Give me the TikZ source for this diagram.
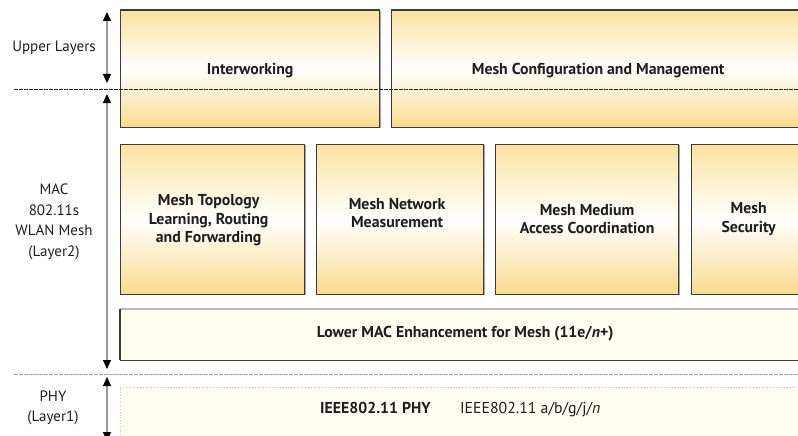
\documentclass[tikz,border=0pt]{standalone}
\usepackage{fontspec}
\setmainfont{PT Sans}
\usetikzlibrary{arrows.meta,shadows}
\definecolor{goldtop}{HTML}{FCE2A0}
\definecolor{goldbot}{HTML}{F9DB8E}
\definecolor{cream}{HTML}{FFFEF1}
\definecolor{edge}{HTML}{3C3C3C}
\definecolor{ink}{HTML}{1E1E1E}
\tikzset{
  goldbox/.style={draw=edge, line width=1.3pt, top color=goldtop, bottom color=goldbot,
    middle color=white, inner sep=0pt, anchor=north west,
    drop shadow={shadow xshift=1.2pt, shadow yshift=-1.2pt, opacity=0.35, fill=black}},
  boxtext/.style={font=\bfseries\fontsize{15.8}{18.5}\selectfont, text=ink, align=center, inner sep=0pt},
  sidetext/.style={font=\fontsize{15}{20.5}\selectfont, text=ink, align=center, inner sep=0pt},
  layerarrow/.style={draw=gray!80, line width=1.2pt,
    {Triangle[width=8pt,length=9pt,color=black]}-{Triangle[width=8pt,length=9pt,color=black]}},
  layersep/.style={line width=0.8pt, dash pattern=on 3.5pt off 1.5pt}
}
\begin{document}
\begin{tikzpicture}[x=1pt,y=-1pt]
\useasboundingbox (0,0) rectangle (798,436);
\clip (0,0) rectangle (798,436);

% upper layers
\node[goldbox, minimum width=259pt, minimum height=117pt] (iw) at (120,9.5) {};
\node[goldbox, minimum width=413pt, minimum height=117pt] (mcm) at (391,9.5) {};
\node[boxtext] (iwt) at ([yshift=-1.5pt]iw.center) {Interworking};
\node[boxtext] (mcmt) at ([yshift=-1.5pt]mcm.center) {Mesh Configuration and Management};

% MAC function blocks
\node[goldbox, minimum width=184pt, minimum height=150pt] (topo) at (120,143.5) {};
\node[goldbox, minimum width=167pt, minimum height=150pt] (meas) at (316,143.5) {};
\node[goldbox, minimum width=183pt, minimum height=150pt] (mac) at (495,143.5) {};
\node[goldbox, minimum width=114pt, minimum height=150pt] (sec) at (691,143.5) {};
\node[boxtext] (topot) at ([xshift=-4pt,yshift=-1pt]topo.center) {Mesh Topology\\Learning, Routing\\and Forwarding};
\node[boxtext] (meast) at ([xshift=-3pt,yshift=6pt]meas.center) {Mesh Network\\Measurement};
\node[boxtext] (mact) at ([yshift=0pt]mac.center) {Mesh Medium\\Access Coordination};
\node[boxtext] (sect) at ([yshift=0pt]sec.center) {Mesh\\Security};

% lower MAC
\node[fill=cream, inner sep=0pt, anchor=north west, minimum width=690pt, minimum height=51pt] (low) at (120,309) {};
\draw[gray!55, line width=2.2pt] (low.north west) -- (low.north east);
\draw[edge, line width=1.2pt] (low.north west) -- (low.south west);
\draw[edge, line width=1.6pt] (low.south west) -- (low.south east);
\node[boxtext] (lowt) at ([xshift=0pt,yshift=1pt]low.center) {Lower MAC Enhancement for Mesh (\textbf{11}e/\textit{n}+)};

% PHY
\node[fill=cream, draw=gray!45, dotted, line width=0.8pt, inner sep=0pt, anchor=north west,
      minimum width=690pt, minimum height=60pt] (phy) at (120,387) {};
\node[boxtext, anchor=west] (phyt) at (320,410) {IEEE802.11 PHY\hspace{1.85em}\mdseries IEEE802.11 a/b/g/j/\textit{n}};

% layer separators
\coordinate (s1a) at (14,89.5);
\coordinate (s1b) at (798,89.5);
\coordinate (s2a) at (14,374);
\coordinate (s2b) at (798,374);
\draw[layersep, black!85] (s1a) -- (s1b);
\draw[layersep, gray!70] (s2a) -- (s2b);

% layer extent arrows
\coordinate (u1) at (107,12);
\coordinate (u2) at (107,83);
\coordinate (m1) at (107,94);
\coordinate (m2) at (107,369);
\coordinate (p1) at (107,377);
\coordinate (p2) at (107,441);
\draw[layerarrow] (u1) -- (u2);
\draw[layerarrow] (m1) -- (m2);
\draw[layerarrow] (p1) -- (p2);

% layer names
\node[sidetext] (upl) at (54,48) {Upper Layers};
\node[sidetext] (macl) at (54,222) {MAC\\802.11s\\WLAN Mesh\\(Layer2)};
\node[sidetext] (phyl) at (53,408) {PHY\\(Layer1)};
\end{tikzpicture}
\end{document}
